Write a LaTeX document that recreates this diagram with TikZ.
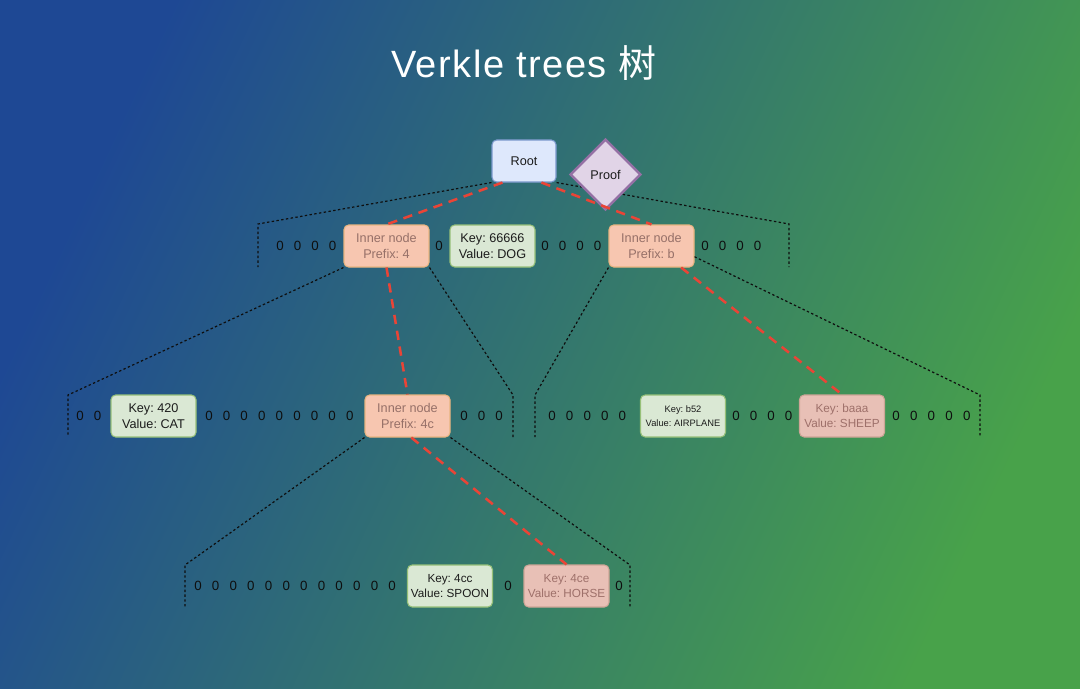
\documentclass[tikz,border=0pt]{standalone}
\usepackage{fontspec}
\setmainfont{Liberation Sans}
\newfontfamily\titlefont[LetterSpace=4]{Liberation Sans}
\newfontfamily\cjk{Noto Sans CJK SC}
\usetikzlibrary{shapes.geometric}
\frenchspacing

\definecolor{bgblue}{RGB}{30,72,148}
\definecolor{bggreen}{RGB}{72,162,74}
\definecolor{innerfill}{RGB}{247,198,176}
\definecolor{innerdraw}{RGB}{232,180,128}
\definecolor{innertext}{RGB}{150,112,104}
\definecolor{leaffill}{RGB}{218,232,212}
\definecolor{leafdraw}{RGB}{150,192,120}
\definecolor{leaftext}{RGB}{28,28,28}
\definecolor{hitfill}{RGB}{232,192,182}
\definecolor{hitdraw}{RGB}{205,165,150}
\definecolor{hittext}{RGB}{158,112,106}
\definecolor{rootfill}{RGB}{222,232,252}
\definecolor{rootdraw}{RGB}{122,152,204}
\definecolor{prooffill}{RGB}{225,212,231}
\definecolor{proofdraw}{RGB}{148,112,164}
\definecolor{proofred}{RGB}{234,68,54}
\definecolor{zerotext}{RGB}{14,14,14}

\begin{document}
\begin{tikzpicture}[x=0.75pt,y=-0.75pt,
    box/.style={rectangle,rounded corners=3.5pt,minimum width=63.75pt,minimum height=31.5pt,
                inner sep=1pt,align=center,font=\fontsize{9.5}{11.5}\selectfont,line width=0.8pt},
    inner/.style={box,fill=innerfill,draw=innerdraw,text=innertext},
    leaf/.style={box,fill=leaffill,draw=leafdraw,text=leaftext},
    hit/.style={box,fill=hitfill,draw=hitdraw,text=hittext},
    small/.style={font=\fontsize{8.8}{11.5}\selectfont},
    zero/.style={font=\fontsize{10}{12}\selectfont,text=zerotext,inner sep=0pt},
    subtree/.style={draw=zerotext,line width=0.9pt,dash pattern=on 1.8pt off 1.8pt},
    proofpath/.style={draw=proofred,line width=1.9pt,dash pattern=on 7pt off 5pt}]

\useasboundingbox (0,0) rectangle (1080,688);
\shade[top color=bgblue,bottom color=bggreen,shading angle=65] (0,0) rectangle (1080,688);

\node[anchor=base,text=white,font=\fontsize{28.5}{34}\selectfont] (title) at (524,78) {\titlefont Verkle trees {\cjk 树}};

% root
\node[rectangle,rounded corners=3.5pt,minimum width=48pt,minimum height=31.5pt,fill=rootfill,draw=rootdraw,
      line width=0.8pt,text=leaftext,font=\fontsize{9.5}{12}\selectfont] (root) at (524,161) {Root};

% level 1
\node[inner] (in4) at (386.5,246) {Inner node\\Prefix: 4};
\node[leaf] (dog) at (492.5,246) {Key: 66666\\Value: DOG};
\node[inner] (inb) at (651.5,246) {Inner node\\Prefix: b};
\foreach \i in {0,...,3} \node[zero] (za\i) at (280+17.5*\i,246) {0};
\node[zero] (zb0) at (439,246) {0};
\foreach \i in {0,...,3} \node[zero] (zc\i) at (545+17.5*\i,246) {0};
\foreach \i in {0,...,3} \node[zero] (zd\i) at (705+17.5*\i,246) {0};

% level 2
\node[leaf] (cat) at (153.5,416) {Key: 420\\Value: CAT};
\node[inner] (in4c) at (407.5,416) {Inner node\\Prefix: 4c};
\node[leaf,font=\fontsize{7}{10.5}\selectfont] (airplane) at (683,416) {Key: b52\\Value: AIRPLANE};
\node[hit,small] (sheep) at (842,416) {Key: baaa\\Value: SHEEP};
\foreach \i in {0,1} \node[zero] (ze\i) at (80+17.5*\i,416) {0};
\foreach \i in {0,...,8} \node[zero] (zf\i) at (209+17.6*\i,416) {0};
\foreach \i in {0,...,2} \node[zero] (zg\i) at (464+17.5*\i,416) {0};
\foreach \i in {0,...,4} \node[zero] (zh\i) at (552+17.6*\i,416) {0};
\foreach \i in {0,...,3} \node[zero] (zi\i) at (736+17.5*\i,416) {0};
\foreach \i in {0,...,4} \node[zero] (zj\i) at (896+17.7*\i,416) {0};

% level 3
\node[leaf,small] (spoon) at (450,586) {Key: 4cc\\Value: SPOON};
\node[hit,small] (horse) at (566.5,586) {Key: 4ce\\Value: HORSE};
\foreach \i in {0,...,11} \node[zero] (zk\i) at (198+17.65*\i,586) {0};
\node[zero] (zl0) at (508,586) {0};
\node[zero] (zm0) at (619,586) {0};

% subtree brackets
\coordinate (b1lt) at (258,224); \coordinate (b1lb) at (258,267);
\coordinate (b1rt) at (789,224); \coordinate (b1rb) at (789,267);
\coordinate (b2lt) at (68,395);  \coordinate (b2lb) at (68,437);
\coordinate (b2mt) at (513,395); \coordinate (b2mb) at (513,437);
\coordinate (b2nt) at (535,395); \coordinate (b2nb) at (535,437);
\coordinate (b2rt) at (980,395); \coordinate (b2rb) at (980,437);
\coordinate (b3lt) at (185,565); \coordinate (b3lb) at (185,607);
\coordinate (b3rt) at (630,565); \coordinate (b3rb) at (630,607);

\draw[subtree] (root.south west) -- (b1lt) -- (b1lb);
\draw[subtree] (root.south east) -- (b1rt) -- (b1rb);
\draw[subtree] (in4.south west) -- (b2lt) -- (b2lb);
\draw[subtree] (in4.south east) -- (b2mt) -- (b2mb);
\draw[subtree] (inb.south west) -- (b2nt) -- (b2nb);
\draw[subtree] (inb.-14) -- (b2rt) -- (b2rb);
\draw[subtree] (in4c.south west) -- (b3lt) -- (b3lb);
\draw[subtree] (in4c.south east) -- (b3rt) -- (b3rb);

\node[diamond,minimum width=53pt,minimum height=53pt,inner sep=0pt,fill=prooffill,draw=proofdraw,
      line width=1.9pt,text=leaftext,font=\fontsize{9.5}{12}\selectfont] (proof) at (605.5,174.5) {Proof};

% proof path
\draw[proofpath] (root.225) -- (in4.north);
\draw[proofpath] (root.-51) -- (inb.north);
\draw[proofpath] (in4.south) -- (in4c.north);
\draw[proofpath] (inb.-36) -- (sheep.north);
\draw[proofpath] (in4c.-80) -- (horse.north);
\end{tikzpicture}
\end{document}
